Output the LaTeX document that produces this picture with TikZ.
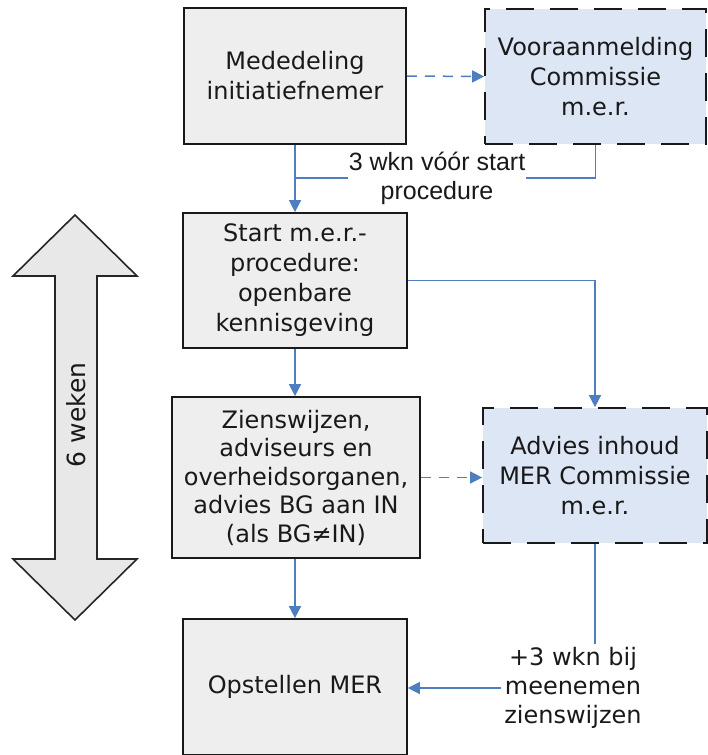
\documentclass[tikz,border=0pt]{standalone}
\usepackage{fontspec}
\setmainfont{DejaVu Sans}
\newfontfamily\labelfont{Liberation Sans}
\usetikzlibrary{arrows.meta}

\definecolor{boxgrey}{HTML}{EEEEEE}
\definecolor{boxblue}{HTML}{DCE6F4}
\definecolor{linkblue}{HTML}{4F7EC0}
\definecolor{arrowgrey}{HTML}{E8E8E8}

\tikzset{
  stepbox/.style={draw=black!90, line width=1.7pt, fill=boxgrey, align=center, inner sep=2pt, text=black!90, font=\fontsize{24}{30}\selectfont},
  combox/.style={stepbox, fill=boxblue, dash pattern=on 28pt off 16pt},
  wire/.style={draw=linkblue, line width=1.5pt},
  link/.style={wire, -{Triangle[length=12pt,width=12pt]}},
  dlink/.style={link, dash pattern=on 10pt off 8pt},
  wknlabel/.style={fill=white, align=center, inner sep=1pt, text=black!90, font=\labelfont\fontsize{25}{29}\selectfont}
}

\begin{document}
\begin{tikzpicture}[x=1pt,y=-1pt]
\useasboundingbox (0,0) rectangle (708,755);

% 6 weken
\draw[line width=1.6pt, draw=black!85, fill=arrowgrey] (75,215) -- (137,276) -- (97,276) -- (97,559) -- (137,559) -- (75,620) -- (13,559) -- (55,559) -- (55,276) -- (13,276) -- cycle;
\node[rotate=90, text=black!90, font=\fontsize{25}{30}\selectfont] (weken) at (76,415) {6 weken};

\node[stepbox, minimum width=222pt, minimum height=136pt] (med) at (295,76) {Mededeling\\initiatiefnemer};
\node[combox, minimum width=221pt, minimum height=135pt] (voor) at (595.5,76.5) {Vooraanmelding\\Commissie\\m.e.r.};
\node[stepbox, minimum width=224pt, minimum height=135pt] (start) at (295,280.5) {Start m.e.r.-\\procedure:\\openbare\\kennisgeving};
\node[stepbox, minimum width=248pt, minimum height=161pt, font=\fontsize{24}{28.5}\selectfont] (zien) at (296,477.5) {Zienswijzen,\\adviseurs en\\overheidsorganen,\\advies BG aan IN\\(als BG≠IN)};
\node[combox, minimum width=224pt, minimum height=135pt] (advies) at (595,475.5) {Advies inhoud\\MER Commissie\\m.e.r.};
\node[stepbox, minimum width=224pt, minimum height=136pt] (opst) at (295,687) {Opstellen MER};

\draw[dlink] (med.east) -- (voor.west);
\draw[link] (med.south) -- (start.north);
\node[wknlabel] (wkn) at (437,178) {3 wkn vóór start\\procedure};
\draw[wire] (voor.south) |- (wkn.east);
\draw[wire] (wkn.west) -- (wkn.west -| med.south);

\draw[link] (start.east) -| (advies.north);
\draw[link] (start.south) -- (zien.north -| start.south);
\draw[dlink] (zien.east) -- (zien.east -| advies.west);
\draw[link] (zien.south -| opst.north) -- (opst.north);

\node[align=center, text=black!90, font=\fontsize{24}{29}\selectfont] (plus) at (573,688) {+3 wkn bij\\meenemen\\zienswijzen};
\draw[wire] (advies.south) -- (advies.south |- plus.north);
\draw[link] (plus.west) -- (plus.west -| opst.east);
\end{tikzpicture}
\end{document}
